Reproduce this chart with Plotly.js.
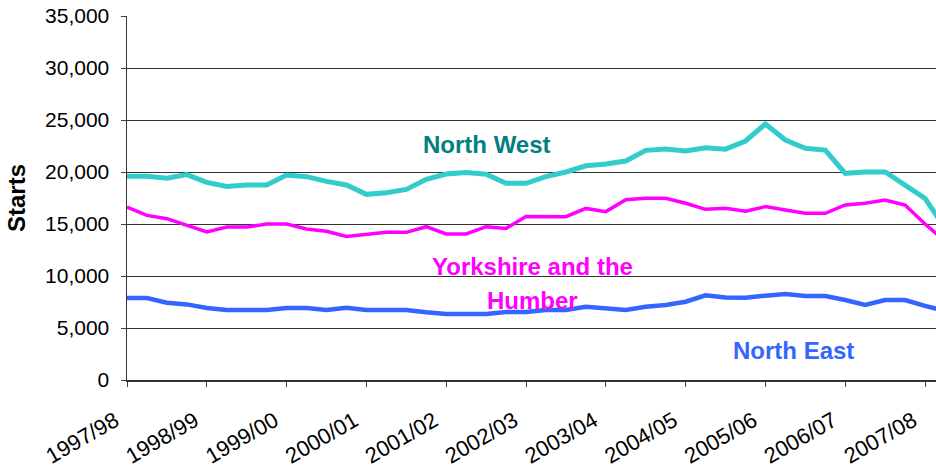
<!DOCTYPE html>
<html>
<head>
<meta charset="utf-8">
<script src="https://cdn.plot.ly/plotly-3.0.1.min.js"></script>
<style>html,body{margin:0;padding:0;background:#fff;}#chart{width:936px;height:472px;}</style>
</head>
<body>
<div id="chart"></div>
<script>
// Quarterly index (0 = 1997/98 Q1)
const quarterIndex = [0,1,2,3,4,5,6,7,8,9,10,11,12,13,14,15,16,17,18,19,20,21,22,23,24,25,26,27,28,29,30,31,32,33,34,35,36,37,38,39,40,41];
const yearTicks = [0,4,8,12,16,20,24,28,32,36,40];
const yearLabels = ["1997/98","1998/99","1999/00","2000/01","2001/02","2002/03","2003/04","2004/05","2005/06","2006/07","2007/08"];

const northWest = [19600,19600,19400,19750,19000,18600,18750,18750,19700,19550,19100,
  18750,17850,18000,18330,19300,19800,19960,19780,18910,18910,
  19550,20000,20600,20770,21060,22080,22210,22020,22340,22200,
  22980,24620,23080,22280,22110,19870,20000,20000,18750,17470,14600];
const yorkshire = [16630,15830,15510,14900,14230,14710,14710,15000,15000,14520,14300,
  13810,14040,14200,14200,14740,14040,14040,14740,14580,15730,
  15700,15700,16500,16190,17340,17470,17470,16990,16410,16520,
  16220,16670,16350,16030,16030,16830,16990,17310,16830,15000,13360];
const northEast = [7880,7880,7430,7270,6920,6730,6730,6730,6920,6920,6730,
  6950,6730,6730,6730,6510,6350,6350,6350,6540,6540,
  6730,6730,7050,6890,6730,7050,7210,7530,8140,7940,
  7920,8110,8270,8080,8080,7690,7210,7690,7690,7120,6650];

const font = "Liberation Sans, Arial, Helvetica, sans-serif";

const traces = [
  {x: quarterIndex, y: northWest, name: "North West", mode: "lines", line: {color: "#33CCCC", width: 5}},
  {x: quarterIndex, y: yorkshire, name: "Yorkshire and the Humber", mode: "lines", line: {color: "#FF00FF", width: 3.5}},
  {x: quarterIndex, y: northEast, name: "North East", mode: "lines", line: {color: "#3366FF", width: 4.5}}
];

const layout = {
  width: 936, height: 472,
  margin: {l: 127, r: 0, t: 16, b: 92},
  paper_bgcolor: "#fff", plot_bgcolor: "#fff",
  showlegend: false,
  font: {family: font, size: 20, color: "#000"},
  xaxis: {
    range: [0, 40.55],
    tickmode: "array", tickvals: yearTicks, ticktext: yearLabels,
    tickangle: -30, ticks: "outside", ticklen: 5, tickcolor: "#444",
    ticklabelstandoff: 13, ticklabelshift: -12,
    showgrid: false, zeroline: false,
    showline: true, linecolor: "#333", linewidth: 1.5,
    tickfont: {family: font, size: 22, color: "#000"}
  },
  yaxis: {
    range: [0, 35000], dtick: 5000, tick0: 0,
    tickformat: ",d",
    ticks: "outside", ticklen: 5, tickcolor: "#444",
    ticklabelstandoff: 7,
    showgrid: true, gridcolor: "#333", gridwidth: 1,
    zeroline: false,
    showline: true, linecolor: "#333", linewidth: 1.5,
    tickfont: {family: font, size: 21, color: "#000"},
    title: {text: "<b>Starts</b>", font: {family: font, size: 24, color: "#000"}, standoff: 12}
  },
  annotations: [
    {x: 18.05, y: 22600, xref: "x", yref: "y", text: "<b>North West</b>", showarrow: false,
     font: {family: font, size: 24, color: "#008080"}},
    {x: 20.3, y: 10960, xref: "x", yref: "y", text: "<b>Yorkshire and the</b>", showarrow: false,
     font: {family: font, size: 24, color: "#FF00FF"}},
    {x: 20.3, y: 7690, xref: "x", yref: "y", text: "<b>Humber</b>", showarrow: false,
     font: {family: font, size: 24, color: "#FF00FF"}},
    {x: 33.4, y: 2880, xref: "x", yref: "y", text: "<b>North East</b>", showarrow: false,
     font: {family: font, size: 24, color: "#3366FF"}}
  ]
};

Plotly.newPlot("chart", traces, layout, {displayModeBar: false, staticPlot: true});
</script>
</body>
</html>
